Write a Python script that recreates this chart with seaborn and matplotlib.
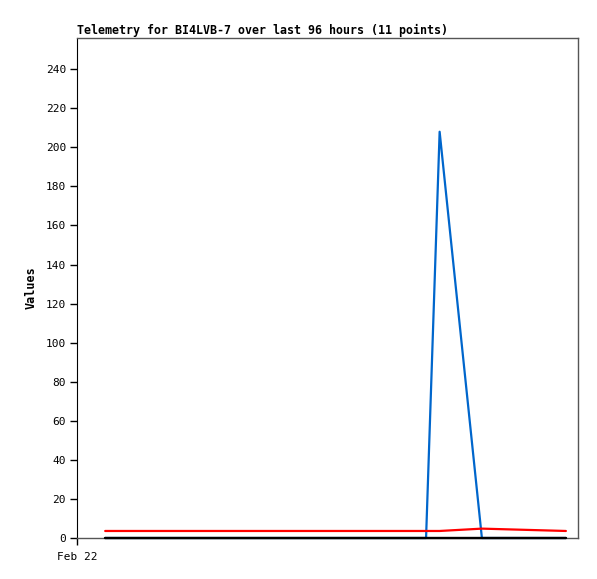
import matplotlib.pyplot as plt
import seaborn as sns
import pandas as pd
import numpy as np

sns.set_style("white")
plt.rcParams["font.family"] = ["DejaVu Sans Mono"]
plt.rcParams["text.color"] = "black"
plt.rcParams["axes.labelcolor"] = "black"
plt.rcParams["xtick.color"] = "black"
plt.rcParams["ytick.color"] = "black"

# telemetry samples (hours after Feb 22 00:00)
hours = [5.4, 14.0, 22.5, 31.0, 39.5, 48.0, 57.0, 66.9, 69.5, 77.6, 93.7]
ch_blue = [0, 0, 0, 0, 0, 0, 0, 0, 208, 0, 0]
ch_red = [3.6, 3.6, 3.6, 3.6, 3.6, 3.6, 3.6, 3.6, 3.6, 4.8, 3.6]
ch_black = [0, 0, 0, 0, 0, 0, 0, 0, 0, 0, 0]

start = pd.Timestamp("2024-02-22 00:00")
times = [start + pd.Timedelta(hours=h) for h in hours]
df = pd.DataFrame({"time": times, "blue": ch_blue, "red": ch_red, "black": ch_black})

fig = plt.figure(figsize=(5.97, 5.79), dpi=100)
ax = fig.add_axes([0.129, 0.0708, 0.839, 0.8636])

sns.lineplot(data=df, x="time", y="blue", ax=ax, color="#0066CC", linewidth=1.6)
sns.lineplot(data=df, x="time", y="red", ax=ax, color="#FF0000", linewidth=1.6)
sns.lineplot(data=df, x="time", y="black", ax=ax, color="black", linewidth=1.7)
for ln in ax.lines:
    ln.set_clip_on(False)
ax.lines[-1].set_zorder(5)

ax.set_xlim(start, start + pd.Timedelta(hours=96))
ax.set_ylim(0, 256)
ax.set_yticks(np.arange(0, 241, 20))
ax.set_xticks([start])
ax.set_xticklabels(["Feb 22"])
ax.tick_params(axis="both", direction="out", length=5, width=1, labelsize=8,
               left=True, bottom=True, color="black", pad=3)
ax.tick_params(axis="x", pad=5)

ax.set_title("Telemetry for BI4LVB-7 over last 96 hours (11 points)",
             loc="left", fontsize=8.4, fontweight="bold", pad=3)
ax.set_ylabel("Values", fontsize=8.5, fontweight="bold", labelpad=6)
ax.set_xlabel("")

ax.spines["left"].set_color("black")
for side in ["top", "right", "bottom"]:
    ax.spines[side].set_color("#555555")
    ax.spines[side].set_linewidth(1)

plt.savefig("out.png", dpi=100)
